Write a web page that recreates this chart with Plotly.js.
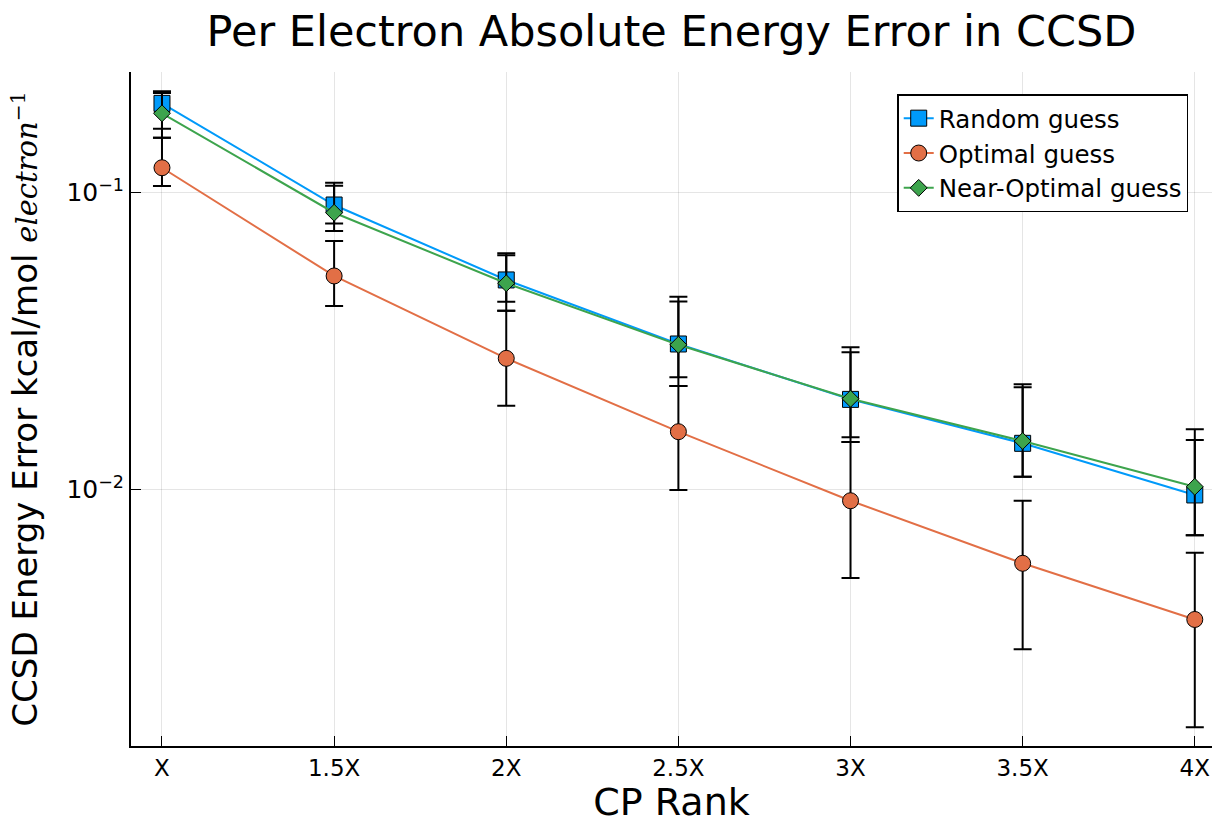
<!DOCTYPE html>
<html>
<head>
<meta charset="utf-8">
<script src="https://cdn.plot.ly/plotly-3.0.1.min.js"></script>
<style>html,body{margin:0;padding:0;background:#fff;}#chart{width:1215px;height:824px;}</style>
</head>
<body>
<div id="chart"></div>
<script>
// CP rank multiples and tick labels
const ranks = [1, 1.5, 2, 2.5, 3, 3.5, 4];
const rankLabels = ["X", "1.5X", "2X", "2.5X", "3X", "3.5X", "4X"];

// Random guess
const randomMean  = [0.2001, 0.0909, 0.0508, 0.0309, 0.0201, 0.01429, 0.00957];
const randomUpper = [0.2197, 0.1080, 0.0625, 0.0446, 0.0301, 0.0221, 0.01466];
const randomLower = [0.1643, 0.0743, 0.0400, 0.0223, 0.01443, 0.01103, 0.00700];

// Optimal guess
const optimalMean  = [0.1214, 0.0524, 0.02764, 0.01564, 0.00915, 0.00563, 0.00364];
const optimalUpper = [0.1532, 0.0688, 0.0400, 0.0223, 0.01443, 0.00915, 0.00611];
const optimalLower = [0.1053, 0.0415, 0.01913, 0.00994, 0.00502, 0.00289, 0.001576];

// Near-Optimal guess
const nearMean  = [0.1852, 0.0856, 0.0495, 0.0307, 0.0202, 0.01455, 0.01020];
const nearUpper = [0.2168, 0.1056, 0.0615, 0.0430, 0.0290, 0.0226, 0.01594];
const nearLower = [0.1532, 0.0788, 0.0429, 0.02385, 0.01497, 0.01103, 0.00700];

const seriesNames = ["Random guess", "Optimal guess", "Near-Optimal guess"];
const seriesColors = ["#009AFA", "#E26F46", "#3DA44D"];
const seriesSymbols = ["square", "circle", "diamond"];
const seriesSizes = [16, 16, 13];

function diff(a, b) { return a.map((v, i) => v - b[i]); }

const data = [
  [randomMean, randomUpper, randomLower],
  [optimalMean, optimalUpper, optimalLower],
  [nearMean, nearUpper, nearLower]
].map((s, k) => ({
  type: "scatter",
  mode: "lines+markers",
  name: seriesNames[k],
  x: ranks,
  y: s[0],
  line: {color: seriesColors[k], width: 2},
  marker: {symbol: seriesSymbols[k], size: seriesSizes[k], color: seriesColors[k],
           line: {color: "#000", width: 1}},
  error_y: {type: "data", symmetric: false, array: diff(s[1], s[0]), arrayminus: diff(s[0], s[2]),
            color: "#000", thickness: 2, width: 9}
}));

const font = "DejaVu Sans, sans-serif";
const layout = {
  width: 1215, height: 824,
  margin: {l: 131, r: 3, t: 72, b: 78},
  paper_bgcolor: "#fff", plot_bgcolor: "#fff",
  font: {family: font, color: "#000"},
  title: {text: "Per Electron Absolute Energy Error in CCSD", font: {family: font, size: 43, color: "#000"},
          x: 0.5, xref: "paper", xanchor: "center", y: 0.962, yanchor: "middle"},
  xaxis: {
    range: [0.91, 4.05],
    tickmode: "array", tickvals: ranks, ticktext: rankLabels,
    ticks: "inside", ticklen: 10, tickwidth: 1, tickcolor: "#000",
    tickfont: {size: 23, family: font},
    showgrid: true, gridcolor: "rgba(0,0,0,0.1)", gridwidth: 1,
    showline: true, linecolor: "#000", linewidth: 2, mirror: false, zeroline: false,
    title: {text: "CP Rank", font: {size: 38, family: font}, standoff: 22}
  },
  yaxis: {
    type: "log",
    range: [-2.8655, -0.593],
    tickmode: "array", tickvals: [0.01, 0.1], ticktext: ["10<sup>−2</sup>", "10<sup>−1</sup>"],
    ticks: "inside", ticklen: 10, tickwidth: 1, tickcolor: "#000",
    tickfont: {size: 25, family: font},
    showgrid: true, gridcolor: "rgba(0,0,0,0.1)", gridwidth: 1,
    showline: true, linecolor: "#000", linewidth: 2, mirror: false, zeroline: false,
    title: {text: "CCSD Energy Error kcal/mol <span style=\"font-family:'DejaVu Serif',serif;font-size:29px\"><i>electron</i><sup>−1</sup></span>",
            font: {size: 34, family: font}, standoff: 18}
  },
  legend: {
    x: 0.978, y: 0.967, xanchor: "right", yanchor: "top",
    bgcolor: "#fff", bordercolor: "#000", borderwidth: 1.5,
    font: {size: 24.5, family: font}
  },
  showlegend: true
};

Plotly.newPlot("chart", data, layout, {displayModeBar: false, staticPlot: true});
</script>
</body>
</html>
